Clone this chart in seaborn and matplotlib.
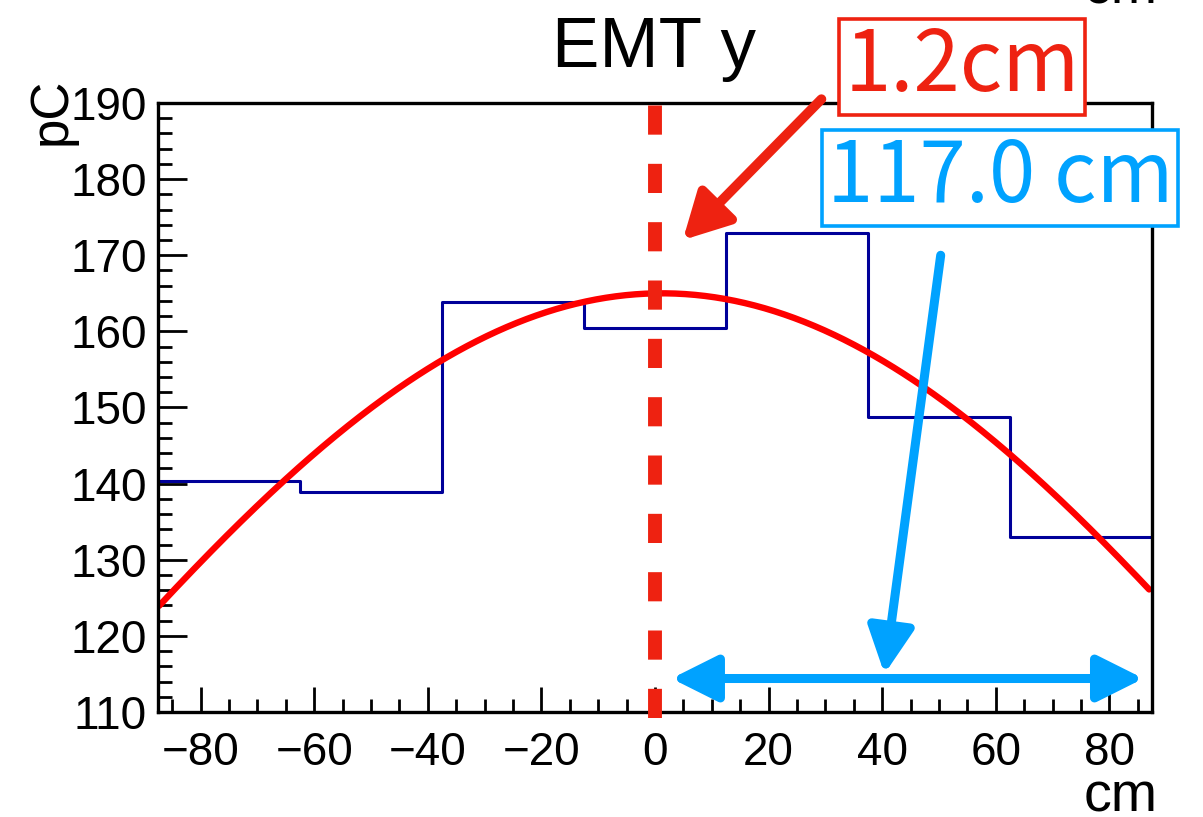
import numpy as np
import pandas as pd
import seaborn as sns
import matplotlib
matplotlib.use("Agg")
import matplotlib.pyplot as plt
from matplotlib.ticker import MultipleLocator

# histogram: 7 bins of 25 cm between -87.5 and 87.5
bin_edges = [-87.5, -62.5, -37.5, -12.5, 12.5, 37.5, 62.5, 87.5]
bin_charge = [140.3, 138.9, 163.9, 160.5, 172.9, 148.7, 133.0]

# gaussian fit
fit_amp = 165.0
fit_mean = 1.2
fit_sigma = 117.0
fit_range = [-87.3, 87.0]

title_text = "EMT y"
mean_label = "1.2cm"
sigma_label = "117.0 cm"

RED = "#ee2211"
BLUE = "#00a2ff"
NAVY = "#000099"

sns.set_theme(style="white")
plt.rcParams["font.family"] = ["Liberation Sans", "DejaVu Sans"]

fig = plt.figure(figsize=(12.03, 8.17), dpi=100)
ax = fig.add_axes([158 / 1203, 1 - 712 / 817, (1152 - 158) / 1203, (712 - 103) / 817])

# histogram as steps
hist_df = pd.DataFrame({"x": bin_edges, "y": bin_charge + [bin_charge[-1]]})
sns.lineplot(data=hist_df, x="x", y="y", drawstyle="steps-post", color=NAVY,
             linewidth=2.2, sort=False, estimator=None, ax=ax)

# gaussian curve
xs = np.linspace(fit_range[0], fit_range[1], 400)
fit_df = pd.DataFrame({"x": xs,
                       "y": fit_amp * np.exp(-0.5 * ((xs - fit_mean) / fit_sigma) ** 2)})
sns.lineplot(data=fit_df, x="x", y="y", color="#ff0000", linewidth=4.6,
             estimator=None, ax=ax)

# dashed line at 0
ax.plot([0, 0], [109.2, 190.6], color=RED, linewidth=10,
        linestyle=(0, (2.1, 2.1)), clip_on=False, zorder=5)

ax.set_xlim(-87.5, 87.5)
ax.set_ylim(110, 190)
ax.set_xlabel("")
ax.set_ylabel("")
ax.xaxis.set_major_locator(MultipleLocator(20))
ax.xaxis.set_minor_locator(MultipleLocator(5))
ax.yaxis.set_major_locator(MultipleLocator(10))
ax.yaxis.set_minor_locator(MultipleLocator(2))
ax.tick_params(axis="both", which="both", direction="in", width=2,
               colors="black", labelsize=33, top=False, right=False,
               bottom=True, left=True)
ax.tick_params(axis="x", which="major", length=18, pad=14)
ax.tick_params(axis="x", which="minor", length=9.5)
ax.tick_params(axis="y", which="major", length=21, pad=8)
ax.tick_params(axis="y", which="minor", length=10)
for s in ax.spines.values():
    s.set_linewidth(2.4)
    s.set_color("black")

# arrows
ax.annotate("", xy=(4.9, 172.0), xytext=(29.3, 190.5),
            arrowprops=dict(arrowstyle="-|>,head_length=1.4,head_width=0.75",
                            mutation_scale=20, color=RED, lw=7,
                            shrinkA=0, shrinkB=0),
            annotation_clip=False)
ax.annotate("", xy=(40.4, 115.0), xytext=(50.3, 170.0),
            arrowprops=dict(arrowstyle="-|>,head_length=1.4,head_width=0.7",
                            mutation_scale=20, color=BLUE, lw=6.5,
                            shrinkA=0, shrinkB=0),
            annotation_clip=False)
ax.annotate("", xy=(2.9, 114.4), xytext=(86.0, 114.4),
            arrowprops=dict(arrowstyle="<|-|>,head_length=1.4,head_width=0.7",
                            mutation_scale=20, color=BLUE, lw=6.5,
                            shrinkA=0, shrinkB=0),
            annotation_clip=False)

# texts
fig.text(654 / 1203, 1 - 67 / 817, title_text, ha="center", va="baseline",
         fontsize=51, color="black")
fig.text(52 / 1203, 1 - 111 / 817, "pC", ha="center", va="center",
         rotation=90, fontsize=38, color="black")
fig.text(1158 / 1203, 1 - 812 / 817, "cm", ha="right", va="baseline",
         fontsize=40, color="black")
fig.text(1158 / 1203, 1 - 3 / 817, "cm", ha="right", va="baseline",
         fontsize=40, color="black")

box_font = ["Noto Sans CJK JP", "DejaVu Sans"]
fig.text(962 / 1203, 1 - 67 / 817, mean_label, ha="center", va="center",
         fontsize=60, color=RED, family=box_font,
         bbox=dict(boxstyle="square,pad=0.06", fc="white", ec=RED, lw=2.6))
fig.text(1000 / 1203, 1 - 178 / 817, sigma_label, ha="center", va="center",
         fontsize=60, color=BLUE, family=box_font,
         bbox=dict(boxstyle="square,pad=0.06", fc="white", ec=BLUE, lw=2.6))

fig.savefig("out.png", dpi=100)
